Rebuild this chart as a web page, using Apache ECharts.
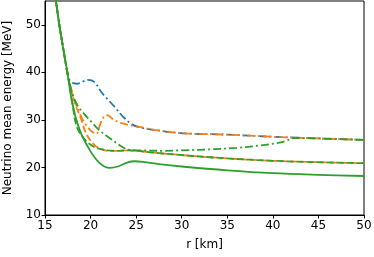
<!DOCTYPE html>
<html><head><meta charset="utf-8">
<script src="https://cdn.jsdelivr.net/npm/echarts@6/dist/echarts.min.js"></script>
<style>html,body{margin:0;padding:0;background:#fff}#c{width:374px;height:257px}</style>
</head><body><div id="c"></div>
<script>
// shared steep branch (r [km], E [MeV])
const steepR = [16.0, 16.2, 16.57, 17.0, 17.45];
const steepE = [57.5, 55.0, 50.0, 45.0, 40.0];

// blue dash-dot
const blueDashDotR = [17.6, 18.0, 18.5, 19.2, 19.7, 20.4, 21.2, 21.75, 22.7, 23.6, 24.7, 25.9, 27.0, 30.0, 35.0, 40.0, 45.0, 50.0];
const blueDashDotE = [38.7, 37.8, 37.6, 38.1, 38.4, 38.0, 35.8, 34.6, 32.6, 30.6, 28.9, 28.2, 27.9, 27.2, 26.9, 26.45, 26.1, 25.8];

// orange dash-dot
const orangeDashDotR = [18.1, 18.8, 19.3, 20.1, 20.65, 21.0, 21.4, 21.8, 22.5, 23.4, 24.5, 25.2, 27.0, 30.0, 35.0, 40.0, 45.0, 50.0];
const orangeDashDotE = [35.0, 31.4, 29.5, 27.6, 27.1, 28.8, 30.5, 31.0, 30.1, 29.3, 28.8, 28.6, 27.9, 27.2, 26.9, 26.45, 26.1, 25.8];

// orange dashed
const orangeDashedR = [18.2, 19.0, 19.4, 20.0, 20.5, 21.0, 21.9, 23.0, 24.0, 25.0, 27.0, 30.0, 35.0, 40.0, 45.0, 50.0];
const orangeDashedE = [34.0, 30.0, 27.6, 25.6, 24.6, 24.0, 23.5, 23.5, 23.6, 23.5, 23.1, 22.6, 21.9, 21.4, 21.1, 20.9];

// green solid
const greenSolidR = [18.0, 18.8, 19.9, 21.0, 22.1, 23.0, 24.0, 24.8, 26.0, 27.5, 30.0, 35.0, 40.0, 45.0, 50.0];
const greenSolidE = [33.5, 27.9, 23.7, 20.9, 19.9, 20.2, 21.0, 21.3, 21.1, 20.7, 20.2, 19.4, 18.8, 18.45, 18.2];

// green dashed
const greenDashedR = [18.0, 18.5, 19.4, 20.3, 21.0, 21.9, 23.0, 24.0, 25.0, 27.0, 30.0, 35.0, 40.0, 45.0, 50.0];
const greenDashedE = [33.5, 28.5, 25.8, 24.4, 23.9, 23.6, 23.5, 23.6, 23.5, 23.1, 22.6, 21.9, 21.4, 21.1, 20.9];

// green dash-dot
const greenDashDotR = [18.1, 18.8, 19.9, 20.8, 21.7, 22.65, 23.5, 24.3, 25.4, 28.0, 30.0, 33.0, 36.0, 38.5, 40.7, 41.5, 42.2, 45.0, 50.0];
const greenDashDotE = [34.9, 32.4, 30.0, 28.1, 26.7, 25.4, 24.3, 23.7, 23.6, 23.5, 23.6, 23.8, 24.1, 24.6, 25.2, 25.6, 26.2, 26.1, 25.8];

const xTicks = [15, 20, 25, 30, 35, 40, 45, 50];
const yTicks = [10, 20, 30, 40, 50];

function pts(r, e) {
  const out = steepR.map((x, i) => [x, steepE[i]]);
  r.forEach((x, i) => out.push([x, e[i]]));
  return out;
}
const C0 = '#1f77b4', C1 = '#ff7f0e', C2 = '#2ca02c';
const dashed = [7, 3], dashdot = [8, 3, 2, 3];
function ser(r, e, color, type) {
  return { type: 'line', data: pts(r, e), showSymbol: false, smooth: 0.35, clip: true,
    lineStyle: { color: color, width: 1.8, type: type }, silent: true, animation: false };
}
const chart = echarts.init(document.getElementById('c'), null, { renderer: 'canvas' });
const font = 'DejaVu Sans';
chart.setOption({
  animation: false,
  grid: { left: 45, right: 10, top: 1, bottom: 42, outerBoundsMode: 'none', containLabel: false,
    show: true, borderColor: '#000', borderWidth: 1, backgroundColor: 'transparent' },
  xAxis: { type: 'value', min: 15, max: 50, interval: 5,
    name: 'r [km]', nameLocation: 'middle', nameGap: 24,
    nameTextStyle: { color: '#000', fontFamily: font, fontSize: 12 },
    axisLine: { lineStyle: { color: '#000' } },
    axisTick: { show: true, inside: false, length: 3.5, lineStyle: { color: '#000' }, customValues: xTicks },
    axisLabel: { color: '#000', fontFamily: font, fontSize: 12, margin: 5, customValues: xTicks },
    splitLine: { show: false } },
  yAxis: { type: 'value', min: 10, max: 55, interval: 10,
    name: 'Neutrino mean energy [MeV]', nameLocation: 'middle', nameGap: 31,
    nameTextStyle: { color: '#000', fontFamily: font, fontSize: 12 },
    axisLine: { show: true, lineStyle: { color: '#000' } },
    axisTick: { show: true, inside: false, length: 3.5, lineStyle: { color: '#000' }, customValues: yTicks },
    axisLabel: { color: '#000', fontFamily: font, fontSize: 12, margin: 4, customValues: yTicks },
    splitLine: { show: false } },
  series: [
    ser(blueDashDotR, blueDashDotE, C0, dashdot),
    ser(orangeDashDotR, orangeDashDotE, C1, dashdot),
    ser(orangeDashedR, orangeDashedE, C1, dashed),
    ser(greenSolidR, greenSolidE, C2, 'solid'),
    ser(greenDashedR, greenDashedE, C2, dashed),
    ser(greenDashDotR, greenDashDotE, C2, dashdot)
  ]
});
</script></body></html>
